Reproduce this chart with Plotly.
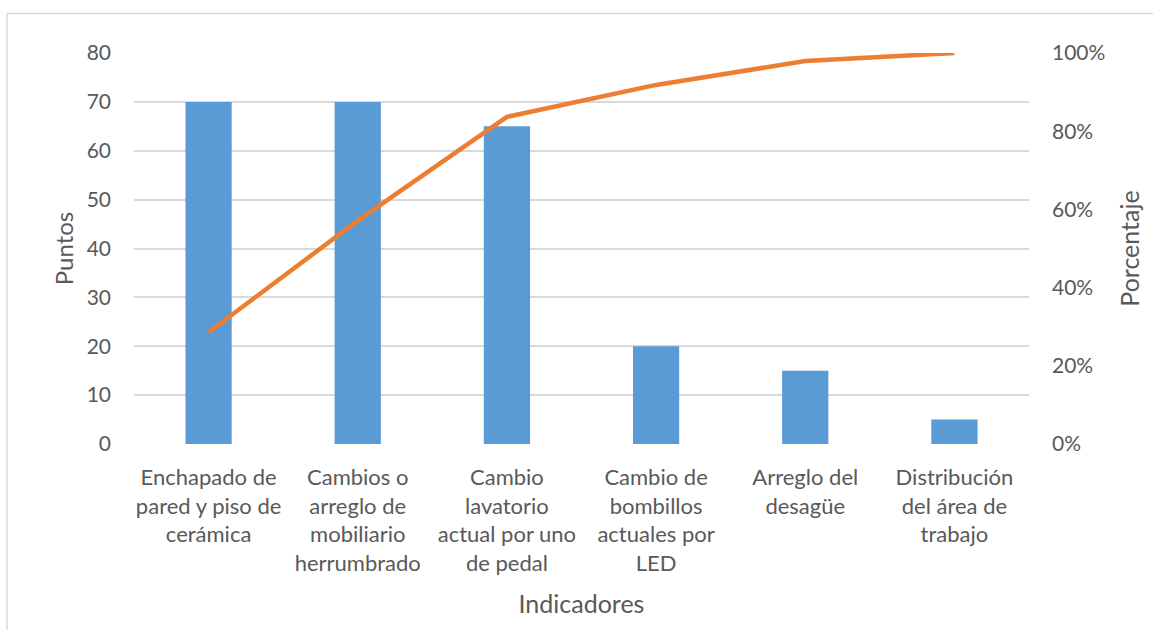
import plotly.graph_objects as go

# Pareto data: points per indicator and cumulative percentage
categorias = [
    "Enchapado de<br>pared y piso de<br>cerámica",
    "Cambios o<br>arreglo de<br>mobiliario<br>herrumbrado",
    "Cambio<br>lavatorio<br>actual por uno<br>de pedal",
    "Cambio de<br>bombillos<br>actuales por<br>LED",
    "Arreglo del<br>desagüe",
    "Distribución<br>del área de<br>trabajo",
]
puntos = [70, 70, 65, 20, 15, 5]
porcentaje_acumulado = [0.2857, 0.5714, 0.8367, 0.9184, 0.9796, 1.0]

FONT = "Lato, Calibri, Carlito, sans-serif"
GRIS = "#595959"

fig = go.Figure()
fig.add_trace(go.Bar(
    x=categorias, y=puntos, marker_color="#5B9BD5", marker_line_width=0,
    name="Puntos", yaxis="y",
))
fig.add_trace(go.Scatter(
    x=categorias, y=porcentaje_acumulado, mode="lines",
    line=dict(color="#ED7D31", width=4.5), name="Porcentaje", yaxis="y2",
))

L, R, T, B = 134, 124, 53, 186
W, H = 1153, 630
pw, ph = W - L - R, H - T - B

def px_x(p):
    return (p - L) / pw

def px_y(p):
    return (H - B - p) / ph

fig.update_layout(
    width=W, height=H,
    margin=dict(l=L, r=R, t=T, b=B, pad=0),
    paper_bgcolor="white", plot_bgcolor="white",
    showlegend=False, bargap=0.69,
    font=dict(family=FONT, color=GRIS, size=21),
    xaxis=dict(
        showgrid=False, showline=False, zeroline=False, ticks="",
        ticklabelstandoff=18,
        tickfont=dict(size=22, color=GRIS),
        title=dict(text="Indicadores", font=dict(size=25, color=GRIS), standoff=20),
    ),
    yaxis=dict(
        range=[0, 80], dtick=10, showgrid=True, gridcolor="#D9D9D9", gridwidth=1.5,
        zeroline=False, showline=False, ticks="", ticklabelstandoff=22,
        tickfont=dict(size=21, color=GRIS),
        title=dict(text="Puntos", font=dict(size=24, color=GRIS), standoff=6),
    ),
    yaxis2=dict(
        range=[0, 1], tickvals=[0, 0.2, 0.4, 0.6, 0.8, 1.0], tickformat=".0%",
        overlaying="y", side="right", showgrid=False, zeroline=False,
        showline=False, ticks="", ticklabelstandoff=22,
        tickfont=dict(size=21, color=GRIS),
        title=dict(text="Porcentaje", font=dict(size=25, color=GRIS), standoff=17),
    ),
    shapes=[dict(
        type="rect", xref="paper", yref="paper",
        x0=px_x(7), x1=px_x(1160), y0=px_y(640), y1=px_y(13.5),
        line=dict(color="#D9D9D9", width=1.5), layer="below",
    )],
)

fig.write_html("out.html")
